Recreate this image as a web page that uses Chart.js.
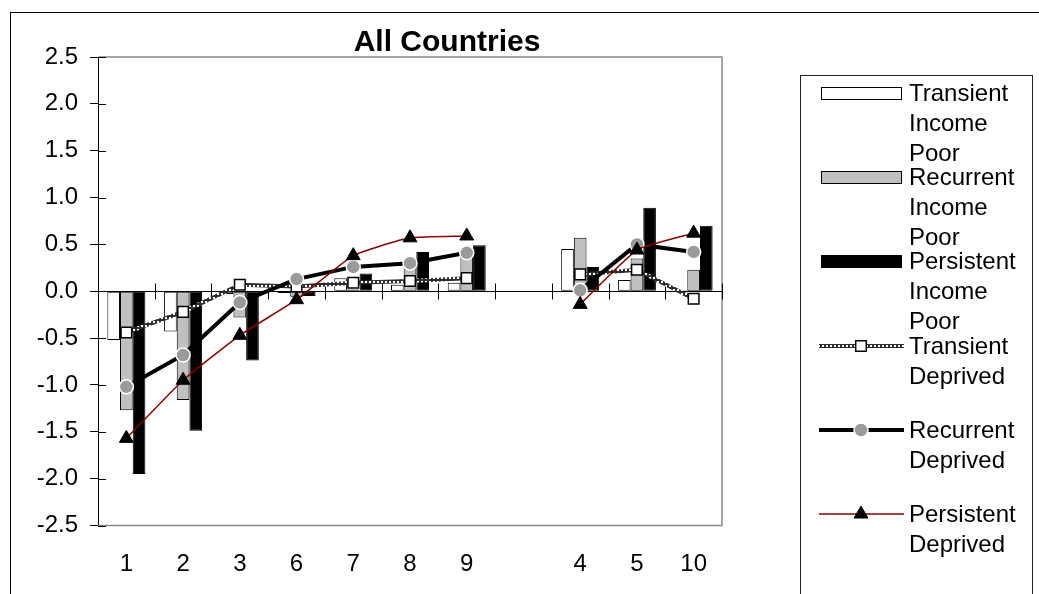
<!DOCTYPE html>
<html>
<head>
<meta charset="utf-8">
<script src="https://cdn.jsdelivr.net/npm/chart.js@4/dist/chart.umd.min.js"></script>
<style>
  body { margin: 0; background: #fff; font-family: "Liberation Sans", Arial, sans-serif; }
  #wrap { position: relative; width: 1039px; height: 594px; overflow: hidden; }
  #chart { position: absolute; left: 0; top: 0; }
  #legend { position: absolute; left: 800px; top: 75px; width: 231px; height: 530px; border: 1px solid #222; }
  .item { position: absolute; left: 0; width: 231px; }
  .item canvas { position: absolute; left: 16px; top: 0; }
  .item span { position: absolute; left: 108px; top: 0; width: 120px; font-size: 24px; line-height: 30px; color: #000; }
</style>
</head>
<body>
<div id="wrap">
  <canvas id="chart" width="1039" height="594"></canvas>
  <div id="legend"></div>
</div>
<script>
// ---------- DATA ----------
const categories = ["1", "2", "3", "6", "7", "8", "9", "", "4", "5", "10"];

const transientIncome  = [-0.52, -0.43, -0.03, -0.02, 0.14, 0.07, 0.09, null, 0.45, 0.12, 0.01];
const recurrentIncome  = [-1.27, -1.16, -0.28, -0.06, 0.02, 0.27, 0.38, null, 0.57, 0.35, 0.23];
const persistentIncome = [-1.95, -1.49, -0.74, -0.05, 0.19, 0.42, 0.49, null, 0.26, 0.89, 0.70];

const transientDep  = [-0.44, -0.22, 0.07, 0.05, 0.09, 0.11, 0.14, null, 0.18, 0.23, -0.08];
const recurrentDep  = [-1.02, -0.68, -0.12, 0.13, 0.26, 0.30, 0.41, null, 0.01, 0.50, 0.42];
const persistentDep = [-1.57, -0.95, -0.47, -0.09, 0.38, 0.57, 0.59, null, -0.14, 0.44, 0.62];

const seriesNames = [
  "Transient Income Poor", "Recurrent Income Poor", "Persistent Income Poor",
  "Transient Deprived", "Recurrent Deprived", "Persistent Deprived"
];
const chartTitle = "All Countries";

const FONT = "'Liberation Sans', Arial, sans-serif";

// ---------- checkered line pattern ----------
function makePattern(c) {
  let pc = document.createElement("canvas");
  pc.width = 4; pc.height = 4;
  let p = pc.getContext("2d");
  p.fillStyle = "#2e2e2e";
  p.fillRect(0, 0, 4, 4);
  p.fillStyle = "#fff";
  p.fillRect(1, 1, 2, 2);
  return c.createPattern(pc, "repeat");
}

const ctx = document.getElementById("chart").getContext("2d");
const checker = makePattern(ctx);

function barSet(label, data, color) {
  return {
    type: "bar", label: label, data: data,
    backgroundColor: color, borderColor: "#000", borderWidth: 1, borderSkipped: false,
    categoryPercentage: 0.67, barPercentage: 1.0, order: 10
  };
}

const datasets = [
  barSet(seriesNames[0], transientIncome, "#ffffff"),
  barSet(seriesNames[1], recurrentIncome, "#c0c0c0"),
  barSet(seriesNames[2], persistentIncome, "#000000"),
  {
    type: "line", label: seriesNames[3], data: transientDep,
    borderColor: checker, borderWidth: 4, tension: 0,
    pointStyle: "rect", pointRadius: 7.5, pointBackgroundColor: "#fff",
    pointBorderColor: "#000", pointBorderWidth: 1.5, order: 3
  },
  {
    type: "line", label: seriesNames[4], data: recurrentDep,
    borderColor: "#000", borderWidth: 4, tension: 0,
    pointStyle: "circle", pointRadius: 7, pointBackgroundColor: "#9a9a9a",
    pointBorderColor: "#fff", pointBorderWidth: 1.5, order: 2
  },
  {
    type: "line", label: seriesNames[5], data: persistentDep,
    borderColor: "#8b0000", borderWidth: 1.5, tension: 0.15,
    pointStyle: "triangle", pointRadius: 8, pointBackgroundColor: "#000",
    pointBorderColor: "#000", pointBorderWidth: 1, order: 1
  }
];

// ---------- FRAME / AXES PLUGIN ----------
const framePlugin = {
  id: "frame",
  beforeDraw(chart) {
    let c = chart.ctx;
    c.save();
    c.strokeStyle = "#000";
    c.lineWidth = 1;
    c.strokeRect(10.5, 12.5, 1200, 800);
    c.restore();
  },
  beforeDatasetsDraw(chart) {
    let c = chart.ctx, a = chart.chartArea;
    let y = chart.scales.y;
    c.save();
    // gray plot border
    c.strokeStyle = "#888";
    c.lineWidth = 1.5;
    c.beginPath();
    c.moveTo(a.left, a.top); c.lineTo(a.right, a.top);
    c.lineTo(a.right, a.bottom); c.lineTo(a.left, a.bottom);
    c.stroke();
    // inner part of y ticks
    c.strokeStyle = "#000";
    c.lineWidth = 1;
    c.beginPath();
    y.ticks.forEach(t => {
      let py = Math.round(y.getPixelForValue(t.value)) + 0.5;
      c.moveTo(a.left, py); c.lineTo(a.left + 8, py);
    });
    // zero line with crossing ticks at category boundaries
    let zy = Math.round(y.getPixelForValue(0)) + 0.5;
    c.moveTo(a.left, zy); c.lineTo(a.right, zy);
    let step = (a.right - a.left) / categories.length;
    for (let i = 1; i <= categories.length; i++) {
      let px = Math.round(a.left + i * step) + 0.5;
      c.moveTo(px, zy - 8); c.lineTo(px, zy + 8);
    }
    c.stroke();
    c.restore();
  },
  afterDraw(chart) {
    let c = chart.ctx;
    c.save();
    c.fillStyle = "#000";
    c.font = "bold 30px " + FONT;
    c.textAlign = "center";
    c.textBaseline = "alphabetic";
    c.fillText(chartTitle, 447, 51);
    c.restore();
  }
};

const tickFont = { family: FONT, size: 24 };

new Chart(ctx, {
  data: { labels: categories, datasets: datasets },
  options: {
    responsive: false,
    animation: false,
    devicePixelRatio: 1,
    layout: { padding: { left: 10, top: 57, right: 317, bottom: 0 } },
    plugins: {
      legend: { display: false },
      tooltip: { enabled: false },
      title: { display: false }
    },
    scales: {
      x: {
        grid: { display: false, drawTicks: false },
        border: { display: false },
        ticks: { font: tickFont, color: "#000", padding: 24, maxRotation: 0, autoSkip: false },
        afterFit(s) { s.height = 68.5; }
      },
      y: {
        min: -2.5, max: 2.5,
        ticks: { stepSize: 0.5, font: tickFont, color: "#000", padding: 12,
                 callback: v => Number(v).toFixed(1) },
        grid: { drawOnChartArea: false, drawTicks: true, tickLength: 8, color: "#000" },
        border: { color: "#000", width: 1 },
        afterFit(s) { s.width = 88; }
      }
    }
  },
  plugins: [framePlugin]
});

// ---------- LEGEND ----------
function drawSymbol(cv, ds) {
  let c = cv.getContext("2d");
  let mid = 10, cx = 44;
  if (ds.type === "bar") {
    c.fillStyle = ds.backgroundColor;
    c.fillRect(4.5, mid - 5.5, 80, 12);
    c.strokeStyle = "#000";
    c.lineWidth = 1;
    c.strokeRect(4.5, mid - 5.5, 80, 12);
    return;
  }
  c.strokeStyle = ds.borderColor === checker ? makePattern(c) : ds.borderColor;
  c.lineWidth = ds.borderWidth;
  c.beginPath();
  c.moveTo(2, mid); c.lineTo(87, mid);
  c.stroke();
  c.fillStyle = ds.pointBackgroundColor;
  c.strokeStyle = ds.pointBorderColor;
  c.lineWidth = ds.pointBorderWidth;
  c.beginPath();
  if (ds.pointStyle === "rect") {
    let s = ds.pointRadius * Math.SQRT1_2;
    c.rect(cx - s, mid - s, 2 * s, 2 * s);
  } else if (ds.pointStyle === "circle") {
    c.arc(cx, mid, ds.pointRadius, 0, Math.PI * 2);
  } else {
    let r = ds.pointRadius;
    c.moveTo(cx, mid - r);
    c.lineTo(cx + r * 0.866, mid + r * 0.5);
    c.lineTo(cx - r * 0.866, mid + r * 0.5);
    c.closePath();
  }
  c.fill();
  c.stroke();
}

const legend = document.getElementById("legend");
datasets.forEach((ds, i) => {
  let item = document.createElement("div");
  item.className = "item";
  item.style.top = (2 + i * 84.2) + "px";
  let cv = document.createElement("canvas");
  cv.width = 90; cv.height = 20;
  cv.style.top = "5px";
  item.appendChild(cv);
  let sp = document.createElement("span");
  sp.textContent = ds.label;
  item.appendChild(sp);
  legend.appendChild(item);
  drawSymbol(cv, ds);
});
</script>
</body>
</html>
